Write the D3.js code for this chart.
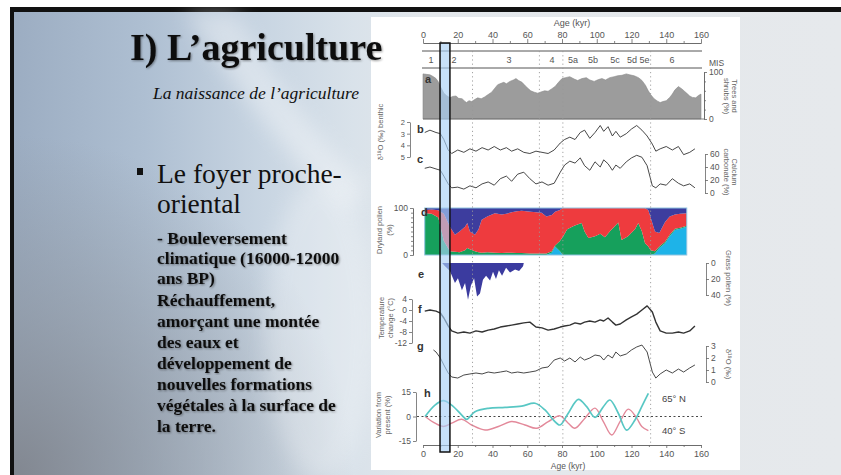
<!DOCTYPE html>
<html>
<head>
<meta charset="utf-8">
<script src="https://cdn.jsdelivr.net/npm/d3@7"></script>
<style>
  html, body { margin: 0; padding: 0; background: #fff; overflow: hidden; }
  svg { display: block; }
</style>
</head>
<body>
<div class="chart"></div>
<script>
// Slide: climate records 0-160 kyr next to the text about the Near-East cradle of agriculture

// ---- values ----
const ageTicks = [0, 20, 40, 60, 80, 100, 120, 140, 160]
const ageMinor = [10, 30, 50, 70, 90, 110, 130, 150]
const misLabels = ['1', '2', '3', '4', '5a', '5b', '5c', '5d', '5e', '6']
const misAges = [4.6, 17.8, 49.5, 74.2, 86.3, 97.8, 110.5, 120.3, 127.5, 143.3]
const boundaryAges = [28.5, 67, 80.5, 131]
const highlight = [9.8, 15.5]

// a: trees and shrubs (%)
const treeAge = [0, 2, 4, 6, 7.5, 9, 10, 11, 12, 13.5, 15.5, 17, 19, 20.5, 22.5, 24, 25, 26.5, 28, 30,
  31.5, 33.5, 35.5, 37.5, 39.5, 41, 43, 45, 46.5, 48, 50, 52, 53.5, 55, 57, 59, 60.5, 62, 64, 66,
  67.5, 70, 72, 74, 76, 78, 80, 82, 84.5, 87, 89, 91.5, 94, 96, 98.5, 101, 103, 105, 107.5, 110,
  112, 114.5, 117, 119, 121.5, 124, 126, 128, 129.5, 131, 133, 135, 136.5, 138, 140, 142, 143.5, 145, 147, 149,
  150.5, 152, 153.5, 155, 157, 158.5, 160]
const treeVal = [96, 95, 94, 90, 86, 78, 69, 62, 55, 50, 45, 48, 49, 44, 43, 38, 35, 39, 37, 42,
  45, 43, 47, 52, 57, 64, 73, 76, 78, 75, 80, 83, 86, 82, 78, 70, 65, 60, 57, 55,
  57, 60, 59, 64, 69, 78, 86, 88, 90, 85, 82, 86, 88, 83, 80, 84, 86, 83, 88, 90,
  92, 93, 96, 94, 92, 88, 82, 72, 61, 52, 43, 38, 35, 37, 39, 46, 53, 62, 69, 64,
  59, 54, 49, 46, 45, 50, 53]

// b, c, f share one age grid
const lineAge = [1, 4, 7.5, 10, 12, 14.5, 16.5, 20, 23.5, 27, 30.5, 34, 37.5, 41, 44.5, 48, 51, 54.5, 58, 61.5,
  65, 68.5, 72, 75.5, 79, 81.5, 84.5, 87.5, 90.5, 93, 96, 99, 102, 104, 106.5, 109, 111, 113.5, 117, 120,
  123, 126, 129, 132, 134, 136.5, 140, 143.5, 147, 150, 153.5, 156.5]
const benthic = [2.9, 2.7, 2.9, 3.0, 3.5, 4.4, 4.7, 4.4, 4.6, 4.3, 4.5, 4.2, 4.4, 4.1, 4.4, 4.2, 4.5, 4.3, 4.6, 4.7,
  4.5, 4.6, 4.7, 4.4, 3.8, 3.5, 3.3, 3.5, 2.9, 2.7, 3.4, 2.9, 2.3, 2.8, 2.4, 3.2, 2.8, 3.3, 3.0, 2.6,
  2.3, 2.7, 3.2, 3.9, 4.5, 4.3, 4.1, 4.4, 4.1, 4.8, 4.6, 4.3]
const carbonate = [38, 40, 37, 35, 26, 14, 8, 9, 6, 11, 8, 14, 17, 12, 22, 26, 18, 29, 32, 22,
  14, 17, 12, 15, 32, 43, 49, 46, 54, 42, 35, 48, 40, 51, 45, 35, 43, 38, 48, 54,
  58, 55, 42, 11, 8, 14, 12, 22, 15, 11, 14, 8]
const temperature = [-0.4, 0, -0.4, -1.1, -2.9, -5.8, -7.6, -8.4, -8.0, -8.4, -7.6, -8.0, -7.3, -6.9, -6.2, -5.8, -5.5, -5.1, -4.7, -4.4,
  -6.2, -6.5, -7.3, -6.9, -6.2, -5.8, -5.5, -4.7, -5.1, -4.4, -4.0, -4.4, -3.6, -4.0, -2.9, -4.4, -5.5, -5.1, -3.6, -2.5,
  -1.5, 0, 1.5, -0.7, -4.4, -7.6, -8.4, -8.4, -8.0, -8.4, -7.6, -5.8]

// g
const gAge = [6, 7.5, 10, 12, 14.5, 16.5, 20, 23.5, 27, 30.5, 34, 37.5, 41, 44.5, 48, 51, 54.5, 58, 61.5, 65,
  68.5, 72, 75.5, 79, 81.5, 84.5, 87.5, 90.5, 93, 96, 99, 102, 104, 106.5, 109, 111, 113.5, 117, 120, 123,
  126, 129, 132, 134, 136.5, 140, 143.5, 147, 150, 153.5, 156.5]
const gVal = [2.67, 2.5, 2.0, 1.42, 0.75, 0.42, 0.33, 0.58, 0.67, 0.75, 0.67, 0.83, 0.75, 0.83, 0.92, 0.75, 0.83, 0.75, 0.83, 0.92,
  1.17, 1.25, 1.83, 2.0, 1.75, 2.0, 1.67, 2.08, 1.83, 2.0, 2.25, 2.17, 1.83, 2.25, 2.0, 2.5, 2.17, 2.33, 2.67, 2.92,
  3.08, 2.5, 0.83, 0.33, 0.67, 1.0, 0.75, 1.08, 0.83, 1.17, 1.42]

// d: dryland pollen (%), four stacked groups
const dryAge = [1, 5, 8.8, 12, 15.5, 18.4, 21, 24.2, 25.5, 27, 29.9, 32, 33.8, 37, 41.4, 45.3, 48, 51, 54, 56.8,
  62, 68.3, 71, 74.1, 76, 78.8, 80.5, 83, 87, 91.3, 93, 95.2, 99, 102, 104.7, 108, 112.4, 114.3, 118, 122,
  123.9, 126, 127.8, 129.7, 131, 133.5, 136, 139.3, 142, 145, 148, 151.8]
const dryCyan = [0, 0, 0, 0, 0, 0, 0, 0, 0, 0, 0, 0, 0, 0, 0, 0, 0, 0, 0, 0,
  0, 0, 0, 5, 18, 8, 0, 0, 0, 0, 0, 0, 0, 0, 0, 0, 0, 0, 0, 0,
  0, 0, 0, 0, 0, 3, 15, 25, 40, 53, 56, 60]
const dryGreen = [89, 88, 80, 30, 8, 7, 6, 10, 15, 12, 8, 6, 5, 6, 5, 4, 5, 5, 4, 4,
  3, 3, 3, 3, 2, 22, 39, 55, 62, 68, 50, 36, 40, 45, 38, 52, 69, 32, 40, 55,
  68, 50, 25, 18, 10, 5, 3, 3, 3, 3, 2, 2]
const dryRed = [7, 9, 15, 58, 52, 36, 44, 50, 53, 38, 35, 49, 70, 76, 84, 82, 83, 86, 89, 90,
  89, 87, 79, 77, 72, 66, 61, 45, 38, 32, 50, 64, 60, 55, 62, 48, 31, 68, 60, 45,
  32, 50, 75, 77, 70, 42, 29, 42, 39, 30, 30, 27]
const dryNavy = [4, 3, 5, 12, 40, 57, 50, 40, 32, 50, 57, 45, 25, 18, 11, 14, 12, 9, 7, 6,
  8, 10, 18, 15, 8, 4, 0, 0, 0, 0, 0, 0, 0, 0, 0, 0, 0, 0, 0, 0,
  0, 0, 0, 5, 20, 50, 53, 30, 18, 14, 12, 11]

// e: grass pollen (%), plotted downward
const grassAge = [11, 12.7, 15.5, 18.4, 20.1, 22.4, 24.2, 25.9, 27.6, 29.4, 31.1, 32.8, 34.5, 36.3, 38.6, 40.3, 42, 43.7, 45.5, 47.8,
  50.1, 53, 55.3, 57.6, 58]
const grassVal = [0, 4, 10, 25, 19, 34, 25, 46, 28, 19, 42, 38, 21, 16, 22, 11, 20, 9, 16, 6,
  12, 8, 10, 4, 0]

// h: insolation, variation from present (%)
const northAge = [1.2, 6.9, 11.7, 16.5, 22.3, 25.1, 29.9, 37.6, 47.2, 56.8, 64.5, 70.2, 75, 78.8, 83.6, 89.4, 94.2, 99, 103.8, 107.6,
  112.4, 117.2, 122, 125.9, 129.7]
const northVal = [0, 7, 9.7, 7, 0.9, -1.7, 2.9, 5, 5.6, 6.4, 8.1, 4, -2.1, -5.2, 2, 10.5, 6, -0.5, 6, 10.1,
  2, -8.3, -2.1, 6, 14.2]
const southAge = [1.2, 6.9, 11.7, 16.5, 22.3, 28, 35.7, 43.4, 51, 58.7, 65.4, 72.1, 78.8, 83.6, 87.4, 93.2, 99, 103.8, 108.6, 113.4,
  118.2, 123, 125.9, 129.7]
const southVal = [0, -4.1, -6.1, -4.1, -1.7, -5.2, -8.3, -6.1, -3.1, -5.2, -7.2, -3.1, 0.4, -4.1, -7.2, -1, 5.1, -3.1, -11.3, -3.1,
  4.5, -1, -6.1, -8.6]

// slide text
const bulletLines = ['Le foyer proche-', 'oriental']
const headLines = ['- Bouleversement', 'climatique (16000-12000', 'ans BP)']
const bodyLines = ['Réchauffement,', 'amorçant une montée', 'des eaux et', 'développement de',
  'nouvelles formations', 'végétales à la surface de', 'la terre.']

// ---- drawing ----
const W = 841, H = 475
const sans = 'Liberation Sans, Arial, sans-serif'
const serif = 'Liberation Serif, Times New Roman, serif'
const ink = '#555'

const svg = d3.select('.chart').append('svg').attr('width', W).attr('height', H)
const defs = svg.append('defs')

const bg = defs.append('linearGradient').attr('id', 'bg')
  .attr('gradientUnits', 'userSpaceOnUse').attr('x1', 14).attr('x2', 841).attr('y1', 0).attr('y2', 0)
;[[0, '#9cadc2'], [0.16, '#aebfd2'], [0.3, '#c8d5e2'], [0.41, '#d9e2ea'], [0.5, '#e3e7eb'], [1, '#e6e9ec']]
  .forEach(s => bg.append('stop').attr('offset', s[0]).attr('stop-color', s[1]))

const dark = defs.append('radialGradient').attr('id', 'dark')
  .attr('gradientUnits', 'userSpaceOnUse').attr('cx', 14).attr('cy', 475).attr('r', 340)
dark.append('stop').attr('offset', 0).attr('stop-color', '#7f838b').attr('stop-opacity', 0.9)
dark.append('stop').attr('offset', 0.5).attr('stop-color', '#8a9099').attr('stop-opacity', 0.5)
dark.append('stop').attr('offset', 1).attr('stop-color', '#8a9099').attr('stop-opacity', 0)

defs.append('filter').attr('id', 'blur').attr('x', '-50%').attr('y', '-50%').attr('width', '200%').attr('height', '200%')
  .append('feGaussianBlur').attr('stdDeviation', 10)
defs.append('filter').attr('id', 'shadow')
  .append('feDropShadow').attr('dx', 1).attr('dy', 1).attr('stdDeviation', 0.8)
  .attr('flood-color', '#000').attr('flood-opacity', 0.4)

// frame and slide background
svg.append('rect').attr('width', W).attr('height', H).attr('fill', '#fff')
svg.append('rect').attr('x', 10).attr('y', 7).attr('width', W - 10).attr('height', H - 7).attr('fill', '#111')
svg.append('rect').attr('x', 14).attr('y', 12).attr('width', W - 14).attr('height', H - 12).attr('fill', 'url(#bg)')
svg.append('rect').attr('x', 14).attr('y', 12).attr('width', 360).attr('height', H - 12).attr('fill', 'url(#dark)')
svg.append('path').attr('d', 'M185,12 L235,12 Q290,110 365,185 L350,215 Q265,135 185,12 Z')
  .attr('fill', '#fff').attr('opacity', 0.35).attr('filter', 'url(#blur)')
svg.append('ellipse').attr('cx', 320).attr('cy', 330).attr('rx', 55).attr('ry', 150)
  .attr('fill', '#fff').attr('opacity', 0.25).attr('filter', 'url(#blur)')

// figure
const fig = svg.append('g')
fig.append('rect').attr('x', 371).attr('y', 17).attr('width', 369).attr('height', 453).attr('fill', '#fff')

const x = d3.scaleLinear().domain([0, 160]).range([423, 701])
const aY = d3.scaleLinear().domain([0, 100]).range([119, 72])
const bY = d3.scaleLinear().domain([2, 5]).range([122, 157])
const cY = d3.scaleLinear().domain([0, 60]).range([193, 154])
const dY = d3.scaleLinear().domain([0, 100]).range([255, 208])
const eY = d3.scaleLinear().domain([0, 40]).range([263, 295])
const fY = d3.scaleLinear().domain([-12, 4]).range([343, 299])
const gY = d3.scaleLinear().domain([0, 3]).range([382, 346])
const hY = d3.scaleLinear().domain([-15, 15]).range([441, 392])

function styleAxis (g, size) {
  g.attr('font-family', sans).attr('font-size', size || 8.5)
  g.selectAll('path, line').attr('stroke', '#666').attr('stroke-width', 0.8)
  g.selectAll('text').attr('fill', ink)
  return g
}
function sideAxis (gen, xpos, scale, vals, size) {
  return styleAxis(fig.append('g').attr('transform', `translate(${xpos},0)`)
    .call(gen(scale).tickValues(vals).tickSize(3).tickSizeOuter(0).tickPadding(2)
      .tickFormat(d => String(d))), size)
}
function minorAxis (gen, xpos, scale, vals) {
  return styleAxis(fig.append('g').attr('transform', `translate(${xpos},0)`)
    .call(gen(scale).tickValues(vals).tickSize(2).tickSizeOuter(0).tickFormat('')))
}

// a: grey area
fig.append('path')
  .datum(treeAge.map((a, i) => ({age: a, v: treeVal[i]})))
  .attr('d', d3.area().x(d => x(d.age)).y0(aY(0)).y1(d => aY(d.v)))
  .attr('fill', '#9c9c9c').attr('stroke', '#8a8a8a').attr('stroke-width', 0.6)
fig.append('line').attr('x1', x(0)).attr('x2', 704).attr('y1', aY(0)).attr('y2', aY(0))
  .attr('stroke', '#666').attr('stroke-width', 0.8)
minorAxis(d3.axisRight, 704, aY, [20, 40, 60, 80])
sideAxis(d3.axisRight, 704, aY, [0, 100])

// b, c, f, g lines
const lineOf = (ys) => d3.line().x(d => x(d.age)).y(d => ys(d.v))
const drawLine = (ages, vals, ys, w) => fig.append('path')
  .datum(ages.map((a, i) => ({age: a, v: vals[i]})))
  .attr('d', lineOf(ys)).attr('fill', 'none').attr('stroke', '#333').attr('stroke-width', w)
  .attr('stroke-linejoin', 'round')
drawLine(lineAge, benthic, bY, 0.9)
drawLine(lineAge, carbonate, cY, 0.9)
drawLine(lineAge, temperature, fY, 1.4)
drawLine(gAge, gVal, gY, 0.9)

sideAxis(d3.axisLeft, 410, bY, [2, 3, 4, 5], 7.5)
sideAxis(d3.axisRight, 705, cY, [0, 20, 40, 60])
sideAxis(d3.axisLeft, 412, fY, [4, 0, -4, -8, -12])
sideAxis(d3.axisRight, 706, gY, [0, 1, 2, 3])

// d: stacked dryland pollen
const dryRows = dryAge.map((a, i) => ({age: a, cyan: dryCyan[i], green: dryGreen[i], red: dryRed[i], navy: dryNavy[i]}))
const dryColors = {cyan: '#1eb3e8', green: '#16a05c', red: '#ee3b3e', navy: '#3d3d9e'}
const stacked = d3.stack().keys(['cyan', 'green', 'red', 'navy'])(dryRows)
fig.selectAll('path.dry').data(stacked).join('path').attr('class', 'dry')
  .attr('d', d3.area().x(d => x(d.data.age)).y0(d => dY(d[0])).y1(d => dY(d[1])))
  .attr('fill', d => dryColors[d.key])
fig.append('rect').attr('x', x(dryAge[0])).attr('y', dY(100))
  .attr('width', x(dryAge[dryAge.length - 1]) - x(dryAge[0])).attr('height', dY(0) - dY(100))
  .attr('fill', 'none').attr('stroke', '#8fc3e0').attr('stroke-width', 1)
minorAxis(d3.axisLeft, 413, dY, [10, 20, 30, 40, 50, 60, 70, 80, 90])
sideAxis(d3.axisLeft, 413, dY, [0, 100])

// e: grass pollen hanging from its zero line
fig.append('path')
  .datum(grassAge.map((a, i) => ({age: a, v: grassVal[i]})))
  .attr('d', d3.area().x(d => x(d.age)).y0(eY(0)).y1(d => eY(d.v)))
  .attr('fill', '#3b3b9f')
sideAxis(d3.axisRight, 706, eY, [0, 20, 40])

// h: insolation
fig.append('line').attr('x1', 417).attr('x2', 702).attr('y1', hY(0)).attr('y2', hY(0))
  .attr('stroke', '#333').attr('stroke-width', 0.9).attr('stroke-dasharray', '2,2.5')
const insol = d3.line().x(d => x(d.age)).y(d => hY(d.v)).curve(d3.curveCatmullRom.alpha(0.5))
fig.append('path').datum(southAge.map((a, i) => ({age: a, v: southVal[i]})))
  .attr('d', insol).attr('fill', 'none').attr('stroke', '#e3899a').attr('stroke-width', 1.4)
fig.append('path').datum(northAge.map((a, i) => ({age: a, v: northVal[i]})))
  .attr('d', insol).attr('fill', 'none').attr('stroke', '#58c7c4').attr('stroke-width', 1.7)
sideAxis(d3.axisLeft, 416, hY, [-15, 0, 15])
fig.append('text').attr('x', 662).attr('y', 402).text('65° N')
  .attr('font-family', sans).attr('font-size', 9.5).attr('fill', '#444')
fig.append('text').attr('x', 662).attr('y', 434).text('40° S')
  .attr('font-family', sans).attr('font-size', 9.5).attr('fill', '#444')

// MIS stages
fig.selectAll('line.mis').data([51, 68]).join('line').attr('class', 'mis')
  .attr('x1', x(0) - 1).attr('x2', x(160) + 1).attr('y1', d => d).attr('y2', d => d)
  .attr('stroke', '#555').attr('stroke-width', 1)
fig.selectAll('text.mis').data(misLabels).join('text').attr('class', 'mis')
  .attr('x', (d, i) => x(misAges[i])).attr('y', 63).attr('text-anchor', 'middle')
  .attr('font-family', sans).attr('font-size', 9).attr('fill', ink).text(d => d)
fig.append('text').attr('x', 709).attr('y', 66).text('MIS')
  .attr('font-family', sans).attr('font-size', 8.5).attr('fill', ink)

// stage boundaries
fig.selectAll('line.bound').data(boundaryAges).join('line').attr('class', 'bound')
  .attr('x1', d => x(d)).attr('x2', d => x(d)).attr('y1', 51).attr('y2', 445)
  .attr('stroke', '#999').attr('stroke-width', 0.9).attr('stroke-dasharray', '1.2,3')

// age axes
styleAxis(fig.append('g').attr('transform', 'translate(0,43)')
  .call(d3.axisTop(x).tickValues(ageTicks).tickSize(4).tickSizeOuter(0).tickPadding(1)), 9)
minorAxis(d3.axisTop, 0, x, ageMinor).attr('transform', 'translate(0,43)')
styleAxis(fig.append('g').attr('transform', 'translate(0,445)')
  .call(d3.axisBottom(x).tickValues(ageTicks).tickSize(3).tickSizeOuter(0).tickPadding(3)), 9)
minorAxis(d3.axisBottom, 0, x, ageMinor).attr('transform', 'translate(0,445)')
fig.append('text').attr('x', 572).attr('y', 26).attr('text-anchor', 'middle').text('Age (kyr)')
  .attr('font-family', sans).attr('font-size', 9).attr('fill', ink)
fig.append('text').attr('x', 568).attr('y', 469).attr('text-anchor', 'middle').text('Age (kyr)')
  .attr('font-family', sans).attr('font-size', 8.5).attr('fill', ink)

// panel letters
const letters = [['a', 425, 83], ['b', 417, 133], ['c', 417, 163], ['d', 421, 216],
  ['e', 418, 278], ['f', 418, 313], ['g', 417, 350], ['h', 424, 397]]
fig.selectAll('text.letter').data(letters).join('text').attr('class', 'letter')
  .attr('x', d => d[1]).attr('y', d => d[2]).text(d => d[0])
  .attr('font-family', sans).attr('font-weight', 'bold').attr('font-size', 11).attr('fill', '#333')

// rotated axis titles (step is the shift from one line to the next)
function vlabel (lines, cx, cy, rot, step) {
  lines.forEach((t, i) => {
    fig.append('text').attr('transform', `translate(${cx + i * step},${cy}) rotate(${rot})`)
      .attr('text-anchor', 'middle').attr('dy', '0.35em').text(t)
      .attr('font-family', sans).attr('font-size', 7.5).attr('fill', '#666')
  })
}
vlabel(['δ¹⁸O (‰) benthic'], 380, 132, -90, 0)
vlabel(['Dryland pollen', '(%)'], 379, 230, -90, 10)
vlabel(['Temperature', 'change (°C)'], 381, 318, -90, 9)
vlabel(['Variation from', 'present (%)'], 378, 415, -90, 9)
vlabel(['Trees and', 'shrubs (%)'], 735, 96, 90, -8)
vlabel(['Calcium', 'carbonate (%)'], 735, 172, 90, -8)
vlabel(['Grass pollen (%)'], 729, 278, 90, 0)
vlabel(['δ¹⁸O (‰)'], 729, 364, 90, 0)

// highlighted interval
fig.append('rect').attr('x', x(highlight[0])).attr('y', 43)
  .attr('width', x(highlight[1]) - x(highlight[0])).attr('height', 409)
  .attr('fill', '#a9d1f6').attr('fill-opacity', 0.65)
  .attr('stroke', '#111').attr('stroke-width', 1.5)

// slide text
const txt = svg.append('g').attr('font-family', serif).attr('fill', '#111')
txt.append('text').attr('x', 130).attr('y', 60).attr('font-size', 38).attr('font-weight', 'bold')
  .attr('filter', 'url(#shadow)').text('I) L’agriculture')
txt.append('text').attr('x', 153).attr('y', 99).attr('font-size', 17.5).attr('font-style', 'italic')
  .text('La naissance de l’agriculture')
txt.append('rect').attr('x', 137).attr('y', 168).attr('width', 6).attr('height', 7).attr('fill', '#111')
bulletLines.forEach((t, i) => txt.append('text').attr('x', 157).attr('y', 183 + i * 30)
  .attr('font-size', 27.5).text(t))
headLines.concat(bodyLines).forEach((t, i) => txt.append('text')
  .attr('x', 157).attr('y', i < 3 ? 244 + i * 20 : 306 + (i - 3) * 21)
  .attr('font-size', 17.5).attr('font-weight', 'bold').attr('filter', 'url(#shadow)').text(t))
</script>
</body>
</html>
